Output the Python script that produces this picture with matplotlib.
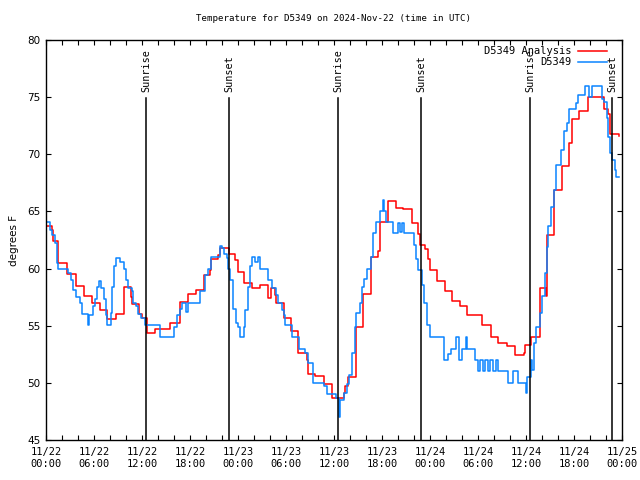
import matplotlib.pyplot as plt
import numpy as np

# hours since 2024-11-22 00:00 UTC, temperatures in deg F
ana_hours = [0.0, 0.7, 0.9, 1.5, 2.6, 3.7, 4.8, 5.8, 6.75, 7.6, 8.8, 9.7, 10.6, 10.8,
             11.6, 12.0, 12.6, 13.6, 15.5, 16.75, 17.8, 18.8, 19.7, 20.5, 20.6, 21.5,
             21.75, 22.9, 23.6, 24.0, 24.8, 25.7, 26.75, 27.7, 28.1, 28.6, 28.8, 29.8,
             30.6, 31.5, 32.6, 32.8, 33.6, 34.7, 35.7, 37.2, 37.4, 37.8, 38.8, 39.6,
             40.6, 41.5, 41.7, 42.7, 43.75, 44.6, 45.7, 46.5, 46.75, 47.4, 47.8, 48.0,
             48.9, 49.9, 50.7, 51.75, 52.6, 54.5, 55.6, 56.5, 57.6, 58.6, 59.7, 59.9,
             60.6, 61.75, 62.5, 62.6, 63.5, 64.5, 65.4, 65.7, 66.6, 67.7, 69.7, 70.3,
             70.5, 71.6]
ana_temp = [63.7, 63.4, 62.4, 60.5, 59.5, 58.5, 57.6, 57.0, 56.4, 55.6, 56.0, 58.4, 57.5, 56.9,
            56.0, 55.7, 54.4, 54.7, 55.2, 57.1, 57.8, 58.1, 59.4, 59.9, 60.8, 61.2,
            61.8, 61.3, 60.75, 59.7, 58.7, 58.3, 58.6, 57.4, 58.3, 57.7, 57.0, 55.7,
            54.5, 52.6, 52.0, 50.8, 50.6, 49.9, 48.7, 49.1, 49.7, 50.5, 54.9, 57.8,
            61.0, 61.5, 64.1, 65.9, 65.3, 65.2, 64.0, 63.0, 62.1, 61.7, 60.8, 59.9,
            58.9, 58.0, 57.2, 56.7, 55.9, 55.1, 54.0, 53.5, 53.2, 52.4, 52.6, 53.3,
            54.0, 58.3, 57.6, 62.9, 66.9, 69.0, 71.0, 73.1, 73.8, 75.0, 74.0, 73.5,
            71.8, 71.6]

obs_hours = [0.0, 0.5, 0.7, 1.1, 1.4, 1.5, 2.8, 3.1, 3.4, 3.8, 4.25, 4.5, 5.3, 5.4, 5.9,
             6.1, 6.4, 6.6, 6.9, 7.2, 7.5, 7.6, 8.1, 8.3, 8.5, 8.8, 9.3, 9.7, 10.0, 10.2,
             10.7, 10.9, 11.3, 11.5, 11.9, 12.4, 14.3, 16.0, 16.4, 16.75, 17.0, 17.5,
             17.8, 19.25, 19.9, 20.2, 20.6, 21.75, 22.0, 22.3, 22.6, 22.8, 23.0, 23.4,
             23.8, 24.0, 24.3, 24.7, 24.9, 25.2, 25.5, 25.7, 26.1, 26.5, 26.75, 27.8,
             28.3, 28.7, 29.0, 29.5, 29.8, 29.9, 30.7, 31.6, 32.4, 32.8, 33.4, 34.8,
             35.1, 36.3, 36.6, 36.8, 37.2, 37.6, 37.9, 38.2, 38.6, 38.8, 39.2, 39.5,
             39.75, 40.1, 40.6, 40.9, 41.25, 41.7, 42.1, 42.25, 42.5, 43.4, 44.0, 44.25,
             44.5, 44.75, 46.0, 46.25, 46.5, 47.0, 47.3, 47.6, 48.0, 49.7, 50.2, 50.6,
             51.3, 51.6, 52.0, 52.5, 52.6, 53.6, 54.0, 54.3, 54.6, 54.9, 55.2, 55.5,
             55.9, 56.2, 56.5, 57.8, 58.4, 59.0, 60.0, 60.1, 60.6, 60.8, 61.0, 61.3,
             61.7, 62.0, 62.4, 62.6, 62.8, 63.1, 63.5, 63.8, 64.4, 64.7, 65.1, 65.4,
             66.3, 66.5, 67.4, 67.9, 68.3, 68.5, 69.5, 69.7, 70.1, 70.3, 70.5, 70.8,
             71.1, 71.3, 71.6]
obs_temp = [64.05, 63.4, 62.9, 62.2, 60.5, 60.0, 59.6, 59.0, 58.1, 57.5, 57.0, 56.0, 55.1, 55.9, 56.7,
            57.3, 58.4, 58.9, 58.3, 57.3, 55.9, 55.1, 56.1, 58.4, 60.2, 60.95, 60.6, 60.0, 59.0, 58.3,
            58.0, 57.0, 56.7, 56.0, 55.65, 55.1, 54.0, 54.9, 55.9, 56.5, 57.0, 56.2,
            57.0, 58.0, 59.4, 60.0, 61.0, 62.0, 61.8, 61.3, 60.9, 60.0, 59.0, 56.5,
            55.2, 54.9, 54.0, 54.9, 56.4, 58.4, 60.2, 61.0, 60.6, 61.0, 60.0, 59.0,
            58.3, 57.7, 57.0, 56.4, 55.9, 55.1, 54.0, 53.0, 52.6, 51.7, 50.0, 49.7,
            49.0, 48.65, 47.0, 48.5, 49.1, 49.9, 50.7, 52.6, 54.9, 56.1, 57.0, 58.4,
            59.1, 60.0, 61.0, 63.1, 64.1, 65.0, 66.0, 65.0, 64.1, 63.1, 64.0, 63.2,
            64.0, 63.1, 62.1, 60.8, 59.9, 58.6, 57.0, 55.1, 54.0, 52.0, 52.5, 53.0,
            54.0, 52.0, 53.0, 54.0, 53.0, 52.0, 51.0, 52.0, 51.0, 52.0, 51.0, 52.0,
            51.0, 52.0, 51.0, 50.0, 51.0, 50.0, 49.1, 50.5, 52.0, 51.1, 53.5, 54.9,
            56.1, 57.6, 59.6, 61.9, 63.7, 65.4, 66.9, 69.1, 70.4, 72.0, 72.7, 74.0,
            74.5, 75.2, 76.0, 75.0, 76.0, 76.0, 74.8, 74.6, 73.2, 71.5, 70.1, 69.5,
            68.6, 68.0, 68.0]

sun_hours = [12.5, 22.9, 36.5, 46.9, 60.5, 70.8]
sun_labels = ['Sunrise', 'Sunset', 'Sunrise', 'Sunset', 'Sunrise', 'Sunset']

xtick_hours = list(range(0, 73, 6))
xtick_labels = ['11/22\n00:00', '11/22\n06:00', '11/22\n12:00', '11/22\n18:00',
                '11/23\n00:00', '11/23\n06:00', '11/23\n12:00', '11/23\n18:00',
                '11/24\n00:00', '11/24\n06:00', '11/24\n12:00', '11/24\n18:00',
                '11/25\n00:00']

mono = 'DejaVu Sans Mono'

fig = plt.figure(figsize=(6.4, 4.8), dpi=100)
ax = fig.add_axes([46 / 640, 40 / 480, 576 / 640, 400 / 480])

ax.plot(ana_hours, ana_temp, color='#ff0000', lw=1.1, drawstyle='steps-post',
        label='D5349 Analysis')
ax.plot(obs_hours, obs_temp, color='#0a84ff', lw=1.1, drawstyle='steps-post',
        label='D5349')

# sunrise / sunset markers
for h, lab in zip(sun_hours, sun_labels):
    ax.axvline(h, ymin=0, ymax=0.855, color='black', lw=1.1)
    ax.text(h, 0.87, lab, transform=ax.get_xaxis_transform(), rotation=90,
            ha='center', va='bottom', fontsize=7.3, family=mono)

ax.set_xlim(0, 72)
ax.set_ylim(45, 80)
ax.set_xticks(xtick_hours)
ax.set_xticklabels(xtick_labels, family=mono, fontsize=7.3)
ax.set_xticks(np.arange(0, 73, 2), minor=True)
ax.set_yticks(np.arange(45, 81, 5))
ax.tick_params(axis='both', which='both', direction='in', top=True, right=True,
               length=3.5, width=0.8, labelsize=7.5, pad=4)
ax.tick_params(axis='x', which='major', pad=5)

ax.set_ylabel('degrees F', fontsize=7.5, labelpad=6)
ax.set_title('Temperature for D5349 on 2024-Nov-22 (time in UTC)', family=mono,
             fontsize=6.6, pad=14)

for s in ax.spines.values():
    s.set_linewidth(1.0)

leg = ax.legend(loc='upper right', frameon=False, markerfirst=False, prop={'family': mono, 'size': 7.5},
                handlelength=2.8, handletextpad=0.6, labelspacing=0.1,
                borderaxespad=0.2, bbox_to_anchor=(0.985, 1.0))

fig.savefig('out.png', dpi=100)
